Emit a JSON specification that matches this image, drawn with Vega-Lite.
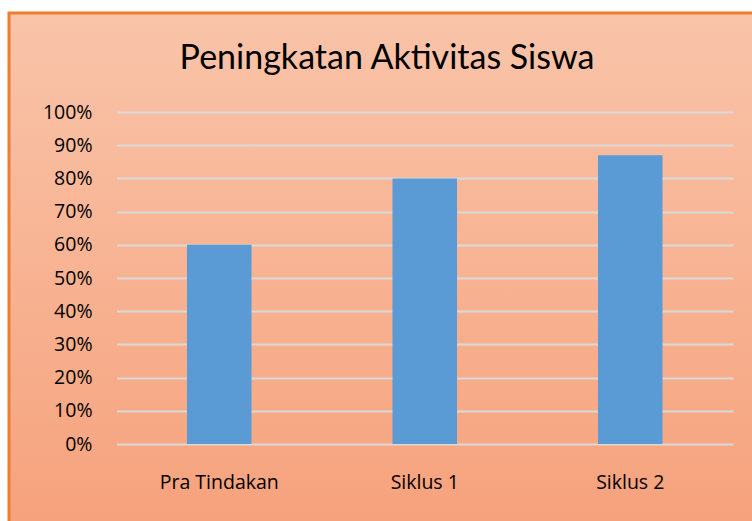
{
  "$schema": "https://vega.github.io/schema/vega-lite/v6.json",
  "autosize": {"type": "none"},
  "padding": {"left": 9, "top": 13, "right": 0, "bottom": 0},
  "width": 756,
  "height": 515,
  "background": "#ffffff",
  "title": {
    "text": "Peningkatan Aktivitas Siswa",
    "font": "Lato",
    "fontSize": 34,
    "fontWeight": "normal",
    "color": "#000000",
    "anchor": "middle",
    "frame": "group",
    "baseline": "top",
    "offset": -63
  },
  "config": {
    "view": {
      "fill": {
        "gradient": "linear",
        "x1": 0, "y1": 0, "x2": 0, "y2": 1,
        "stops": [
          {"offset": 0, "color": "#f9c4a9"},
          {"offset": 1, "color": "#f6a27c"}
        ]
      },
      "stroke": "#ed7d31",
      "strokeWidth": 3
    }
  },
  "data": {
    "values": [
      {"tahap": "Pra Tindakan", "nilai": 0.60},
      {"tahap": "Siklus 1", "nilai": 0.80},
      {"tahap": "Siklus 2", "nilai": 0.87}
    ]
  },
  "mark": {"type": "bar", "color": "#5b9bd5"},
  "encoding": {
    "x": {
      "field": "tahap",
      "type": "nominal",
      "sort": null,
      "scale": {"range": [107.5, 724], "paddingInner": 0.686, "paddingOuter": 0.343},
      "axis": {
        "title": null,
        "labelAngle": 0,
        "domain": false,
        "ticks": false,
        "labelFont": "Open Sans",
        "labelFontSize": 19.5,
        "labelColor": "#000000",
        "labelPadding": 0,
        "offset": -55
      }
    },
    "y": {
      "field": "nilai",
      "type": "quantitative",
      "scale": {"domain": [0, 1], "range": [431, 99], "nice": false},
      "axis": {
        "title": null,
        "format": ".0%",
        "values": [0, 0.1, 0.2, 0.3, 0.4, 0.5, 0.6, 0.7, 0.8, 0.9, 1],
        "domain": false,
        "ticks": false,
        "grid": true,
        "gridColor": "#d9d9d9",
        "gridWidth": 2,
        "gridOpacity": 1,
        "labelFont": "Open Sans",
        "labelFontSize": 19.5,
        "labelColor": "#000000",
        "labelPadding": 0,
        "offset": -83
      }
    }
  }
}
